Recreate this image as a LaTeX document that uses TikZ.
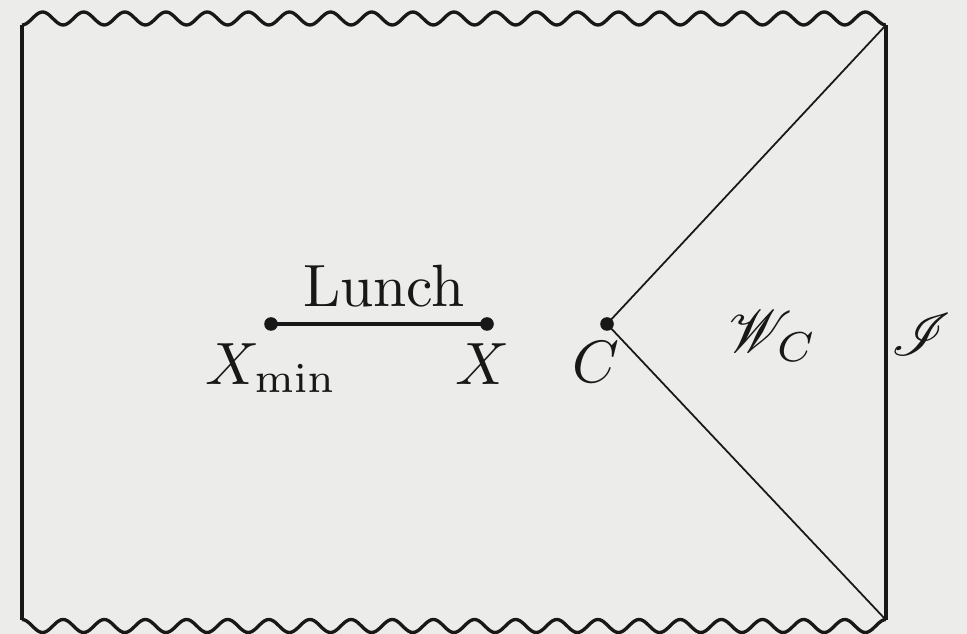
\documentclass[tikz,border=0pt]{standalone}
\usepackage{amsmath,amssymb}
\usepackage{mathrsfs}
\usepackage{xcolor}
\usetikzlibrary{positioning}
\definecolor{paper}{RGB}{236,236,234}
\definecolor{ink}{RGB}{24,24,24}

\begin{document}
\begin{tikzpicture}[x=0.02cm,y=-0.02cm,
    lbl/.style={scale=3.4,text=ink,inner sep=0pt},
    edge/.style={ink,line width=2.3pt},
    wave/.style={ink,line width=1.9pt},
    ray/.style={ink,line width=1pt}]
  % paper
  \fill[paper] (0,0) rectangle (967,634);
  \useasboundingbox (0,0) rectangle (967,634);
  \coordinate (TL) at (22,25);
  \coordinate (TR) at (886,25);
  \coordinate (BL) at (22,620);
  \coordinate (BR) at (886,620);
  \coordinate (Xmin) at (271,324);
  \coordinate (X) at (487,324);
  \coordinate (C) at (607,324);
  % boundary
  \draw[edge] (TL)--(BL);
  \draw[edge] (TR)--(BR);
  \draw[wave] plot[domain=0:21,samples=421,smooth] ({22+41.14*\x},{18.5+6.5*cos(360*\x)});
  \draw[wave] plot[domain=0:21,samples=421,smooth] ({22+41.14*\x},{626-6.5*cos(360*\x)});
  \draw[ray] (C)--(TR);
  \draw[ray] (C)--(BR);
  \draw[ink,line width=2.2pt] (Xmin)--(X) node[midway,anchor=south,xshift=0.1cm,yshift=0.2cm,lbl] {Lunch};
  \fill[ink] (Xmin) circle (6.8) node[anchor=north,yshift=-0.36cm,lbl] {$X_{\min}$};
  \fill[ink] (X) circle (6.8) node[anchor=north,xshift=-0.08cm,yshift=-0.36cm,lbl] {$X$};
  \fill[ink] (C) circle (6.8) node[anchor=north,xshift=-0.22cm,yshift=-0.32cm,lbl] {$C$};
  \node[lbl] (WC) at (773,336) {$\mathscr{W}_C$};
  \node[lbl] (scri) at (921,335) {$\mathscr{I}$};
\end{tikzpicture}
\end{document}
